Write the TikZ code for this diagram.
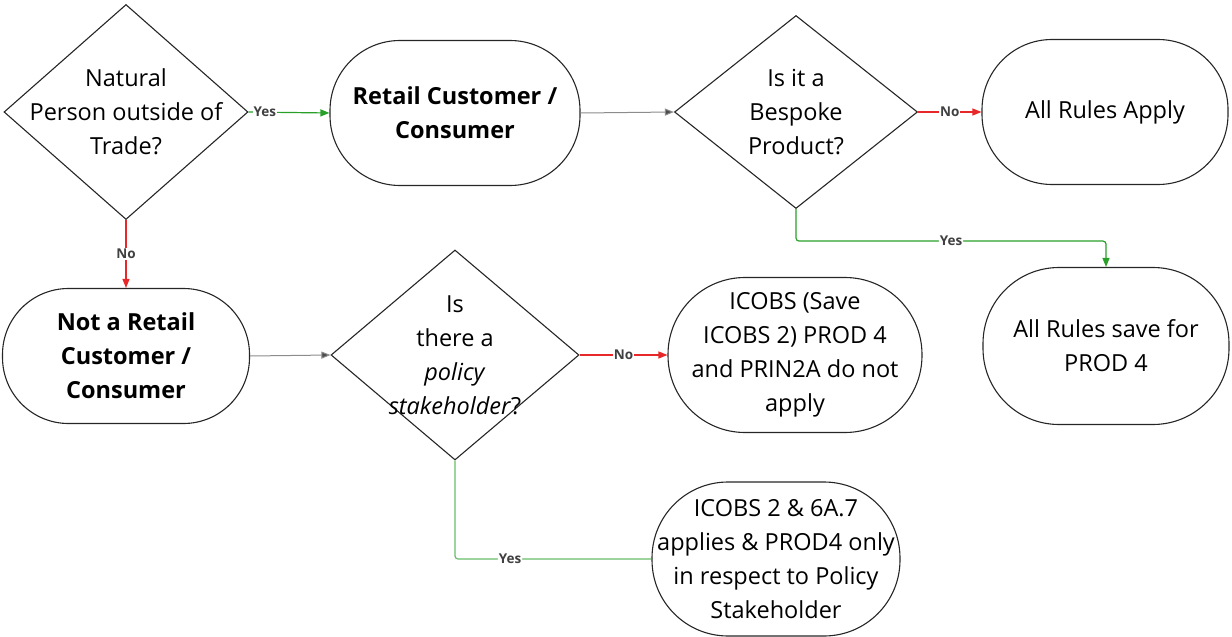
\documentclass[tikz,border=0pt]{standalone}
\usepackage{fontspec}
\setmainfont{Open Sans}
\usetikzlibrary{shapes.geometric, arrows.meta}
\definecolor{yesgreen}{RGB}{40,160,40}
\definecolor{nored}{RGB}{232,40,40}
\tikzset{
  >={Triangle[length=9pt, width=7pt]},
  x=1pt, y=-1pt,
  qtext/.style={align=center, font=\fontsize{23.5}{34}\selectfont},
  decision/.style={diamond, draw=black!85, line width=1.1pt, inner sep=0pt,
    label={[qtext]center:{#1}}},
  outcome/.style={rectangle, draw=black!85, line width=1.1pt, rounded corners=70pt,
    align=center, font=\fontsize{23.5}{34}\selectfont},
  lbl/.style={fill=white, inner sep=1pt, text=black!75,
    font=\bfseries\fontsize{13.5}{14}\selectfont},
  yes/.style={->, draw=yesgreen, line width=1.2pt},
  no/.style={->, draw=nored, line width=1.2pt},
  plain/.style={->, draw=black!45, line width=1pt, >={Triangle[length=9pt, width=7pt, fill=black!70]}},
}

\begin{document}
\begin{tikzpicture}
  \useasboundingbox (0,0) rectangle (1232,637);

  \node[decision={Natural\\Person outside of\\Trade?},
        minimum width=244pt, minimum height=215pt] (d1) at (126,112) {};
  \node[outcome, minimum width=250pt, minimum height=145pt,
        font=\bfseries\fontsize{23.5}{34}\selectfont] (rc) at (455,113)
        {Retail Customer /\\Consumer};
  \node[decision={Is it a\\Bespoke\\Product?},
        minimum width=243pt, minimum height=193pt] (d2) at (796,112) {};
  \node[outcome, minimum width=246pt, minimum height=145pt] (ara) at (1105,112)
        {All Rules Apply};

  \node[outcome, minimum width=247pt, minimum height=135pt, rounded corners=66pt,
        font=\bfseries\fontsize{23.5}{34}\selectfont] (nrc) at (126,356)
        {Not a Retail\\Customer /\\Consumer};
  \node[decision={Is\\there a\\\textit{policy}\\\textit{stakeholder}?},
        minimum width=248pt, minimum height=210pt] (d3) at (455,355) {};
  \node[outcome, minimum width=254pt, minimum height=155pt, rounded corners=77pt]
        (ic) at (795,355) {ICOBS (Save\\ICOBS 2) PROD 4\\and PRIN2A do not\\apply};
  \node[outcome, minimum width=246pt, minimum height=157pt, rounded corners=76pt]
        (ars) at (1106,346) {All Rules save for\\PROD 4};
  \node[outcome, minimum width=248pt, minimum height=154pt, rounded corners=76pt]
        (ic2) at (776,559) {ICOBS 2 \& 6A.7\\applies \& PROD4 only\\in respect to Policy\\Stakeholder};

  \draw[yes] (d1.east) -- node[lbl, pos=0.2] {Yes} (rc.west);
  \draw[no] (d1.south) -- node[lbl] {No} (nrc.north);
  \draw[plain] (rc.east) -- (d2.west);
  \draw[no] (d2.east) -- node[lbl] {No} (ara.west);
  \draw[yes, rounded corners=3pt] (d2.south) -- ++(0,32)
        -| node[lbl, pos=0.25] {Yes} (ars.north);
  \draw[plain] (nrc.east) -- (d3.west);
  \draw[no] (d3.east) -- node[lbl] {No} (ic.west);
  \draw[yes, -, draw=yesgreen!70, rounded corners=3pt] (d3.south)
        |- node[lbl, pos=0.64] {Yes} (ic2.west);
\end{tikzpicture}
\end{document}
